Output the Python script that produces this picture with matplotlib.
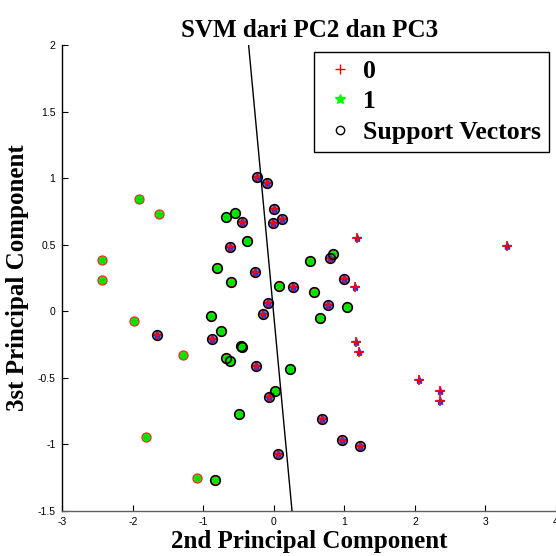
import matplotlib
matplotlib.use("Agg")
import matplotlib.pyplot as plt
from matplotlib.lines import Line2D
import numpy as np

# ---- data ----
c0_x = [-0.245, -0.10, 0.005, -0.01, 0.11, -0.46, -0.62, -0.27, 0.27, 0.99, 0.79, 0.77,
        -0.08, -0.16, -0.88, -1.66, -0.255, -0.07, 0.057, 0.68, 0.96, 1.22,
        1.18, 1.15, 1.17, 1.20, 2.06, 2.35, 2.35, 3.30]
c0_y = [1.01, 0.965, 0.765, 0.66, 0.69, 0.67, 0.48, 0.29, 0.18, 0.24, 0.40, 0.045,
        0.06, -0.025, -0.21, -0.18, -0.41, -0.65, -1.075, -0.815, -0.97, -1.015,
        0.55, 0.18, -0.235, -0.31, -0.515, -0.60, -0.68, 0.49]
c0_sv = [1]*22 + [0]*8

c1_x = [-0.685, -0.55, -0.38, -0.81, -0.61, -0.90, -0.75, -0.47, -0.46, 0.075, 0.51, 0.83,
        0.57, 1.035, 0.65, -0.685, -0.62, 0.227, 0.014, -0.50, -0.83,
        -1.91, -1.63, -2.435, -2.435, -1.986, -1.29, -1.816, -1.097]
c1_y = [0.71, 0.74, 0.53, 0.325, 0.22, -0.04, -0.15, -0.26, -0.27, 0.19, 0.375, 0.43,
        0.14, 0.03, -0.055, -0.356, -0.375, -0.436, -0.60, -0.777, -1.27,
        0.845, 0.727, 0.383, 0.233, -0.075, -0.33, -0.945, -1.253]
c1_sv = [1]*21 + [0]*8

sep_x = [-0.36, 0.255]
sep_y = [2.0, -1.5]

x_ticks = [-3, -2, -1, 0, 1, 2, 3, 4]
y_ticks = [-1.5, -1, -0.5, 0, 0.5, 1, 1.5, 2]

c0_x, c0_y, c0_sv = map(np.array, (c0_x, c0_y, c0_sv))
c1_x, c1_y, c1_sv = map(np.array, (c1_x, c1_y, c1_sv))

serif = ['Liberation Serif', 'DejaVu Serif']
sans = ['Liberation Sans', 'DejaVu Sans']

fig = plt.figure(figsize=(5.56, 5.56), dpi=100)
ax = fig.add_axes([0.1124, 0.0818, 0.8876, 0.8372])

# class 1 points: green filled circles with red edge + green star
ax.plot(c1_x, c1_y, 'o', ms=6.5, mfc='#00ff00', mec='#ff2020', mew=0.9, ls='none', zorder=2)
ax.plot(c1_x, c1_y, '*', ms=5, color='#00e000', ls='none', zorder=3)

# class 0 support-vector fill
m0 = c0_sv == 1
ax.plot(c0_x[m0], c0_y[m0], 'o', ms=6.5, mfc='#7a78c0', mec='none', ls='none', zorder=2)
# class 0 points: blue star + red plus
ax.plot(c0_x, c0_y, '*', ms=6, color='#3030e0', ls='none', zorder=3)
ax.plot(c0_x, c0_y, '+', ms=7, color='#ff0000', mew=1.2, ls='none', zorder=4)

# support vectors: black circles
m1 = c1_sv == 1
ax.plot(np.concatenate([c0_x[m0], c1_x[m1]]), np.concatenate([c0_y[m0], c1_y[m1]]),
        'o', ms=7, mfc='none', mec='black', mew=1.1, ls='none', zorder=5)

# separating line
ax.plot(sep_x, sep_y, '-', color='black', lw=1, zorder=6)

ax.set_xlim(-3, 4)
ax.set_ylim(-1.5, 2)
ax.set_xticks(x_ticks)
ax.set_yticks(y_ticks)
ax.set_xticklabels([f'{t:g}' for t in x_ticks], family=sans, fontsize=7.5)
ax.set_yticklabels([f'{t:g}' for t in y_ticks], family=sans, fontsize=7.5)
ax.tick_params(direction='in', length=4, width=0.8, top=False, right=False, pad=5)
for s in ('top', 'right'):
    ax.spines[s].set_visible(False)
ax.spines['left'].set_linewidth(1)
ax.spines['bottom'].set_linewidth(1)
ax.spines['bottom'].set_color('#606060')

ax.set_title('SVM dari PC2 dan PC3', family=serif, fontweight='bold', fontsize=18, pad=6)
ax.set_xlabel('2nd Principal Component', family=serif, fontweight='bold', fontsize=18, labelpad=2)
ax.set_ylabel('3st Principal Component', family=serif, fontweight='bold', fontsize=18, labelpad=6)

handles = [
    Line2D([], [], marker='+', color='#ff0000', ls='none', ms=7, mew=1),
    Line2D([], [], marker='*', color='#00ff00', ls='none', ms=7),
    Line2D([], [], marker='o', mfc='none', mec='black', ls='none', ms=6, mew=1),
]
leg = ax.legend(handles, ['0', '1', 'Support Vectors'], loc='upper right',
                bbox_to_anchor=(0.986, 0.985), prop={'family': serif, 'weight': 'bold', 'size': 18.5},
                frameon=True, fancybox=False, edgecolor='black', framealpha=1,
                borderpad=0.3, labelspacing=0.3, handlelength=1.42, handletextpad=0.2, borderaxespad=0)
leg.get_frame().set_linewidth(1)

fig.savefig('out.png', dpi=100)
